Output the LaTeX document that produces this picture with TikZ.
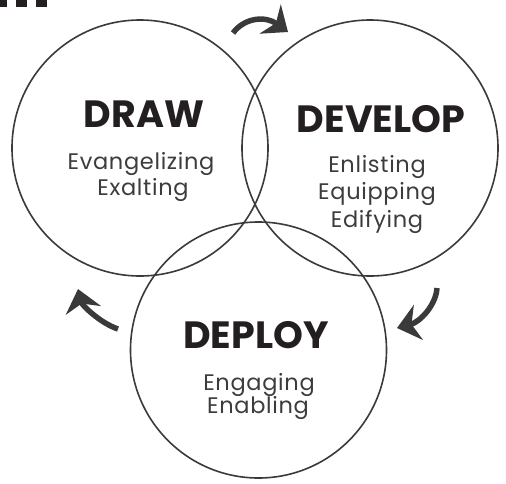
\documentclass[tikz,border=0pt]{standalone}
\usepackage{fontspec}
\setmainfont{Poppins}
\newfontfamily\subfont[LetterSpace=3]{Poppins}
\usetikzlibrary{arrows.meta}
\definecolor{ink}{HTML}{231F20}
\definecolor{linec}{HTML}{3A3A3A}
\definecolor{txt}{HTML}{3C3C3C}
\begin{document}
\begin{tikzpicture}[x=1pt,y=-1pt,
  ring/.style={circle, draw=linec, line width=1.6pt, minimum size=256pt, inner sep=0pt},
  title/.style={anchor=base, font=\bfseries\fontsize{38}{38}\selectfont, text=ink, inner sep=0pt},
  sub/.style={anchor=base, font=\subfont\fontsize{22.5}{22.5}\selectfont, text=txt, inner sep=0pt},
  cyc/.style={draw=linec, line width=5.5pt, -{Stealth[length=22pt,width=36pt,inset=7pt]}},
  blk/.style={fill=ink, draw=none}]
\useasboundingbox (0,0) rectangle (506,483);
% truncated heading remnants
\fill[blk] (0,0) rectangle (7,7);
\fill[blk] (16,0) rectangle (27,7);
\fill[blk] (36,0) rectangle (47,7);
% circles
\node[ring] (cdraw) at (140,148) {};
\node[ring] (cdev) at (370,148) {};
\node[ring] (cdep) at (258.5,350) {};
% texts
\node[title] (tdraw) at (144,127) {DRAW};
\node[sub] (s1) at (141,169) {Evangelizing};
\node[sub] (s2) at (143,195) {Exalting};
\node[title] (tdev) at (381,132) {DEVELOP};
\node[sub] (s3) at (377,172) {Enlisting};
\node[sub] (s4) at (377,199) {Equipping};
\node[sub] (s5) at (377,227) {Edifying};
\node[title] (tdep) at (256,348) {DEPLOY};
\node[sub] (s6) at (259,390) {Engaging};
\node[sub] (s7) at (258,413) {Enabling};
% cycle arrows
\coordinate (a1) at (233,33);
\coordinate (a2) at (288,32);
\coordinate (b1) at (437,288);
\coordinate (b2) at (397,328);
\coordinate (c1) at (118,329);
\coordinate (c2) at (78,289);
\draw[cyc] (a1) .. controls (245,17) and (266,16) .. (a2);
\draw[cyc] (b1) .. controls (436,305) and (420,322) .. (b2);
\draw[cyc] (c1) .. controls (100,323) and (82,305) .. (c2);
\end{tikzpicture}
\end{document}
